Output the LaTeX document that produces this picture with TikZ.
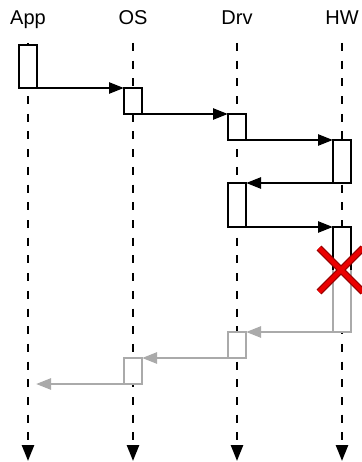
\documentclass[tikz,border=0pt]{standalone}
\usepackage{fontspec}
\setmainfont{Liberation Sans}
\usetikzlibrary{arrows.meta}
\definecolor{lgray}{RGB}{170,170,170}
\definecolor{xred}{RGB}{235,0,0}
\definecolor{xdark}{RGB}{150,0,0}
\begin{document}
\begin{tikzpicture}[x=1pt,y=-1pt,
  lbl/.style={anchor=base,font=\fontsize{20}{20}\selectfont,inner sep=0},
  life/.style={line width=2.5pt,dash pattern=on 8pt off 9.7pt,-{Triangle[length=16pt,width=12pt]}},
  act/.style={draw,line width=2.5pt,fill=white,minimum width=18pt,inner sep=0,outer sep=0,anchor=north},
  gact/.style={act,draw=lgray},
  msg/.style={line width=2.5pt,-{Triangle[length=15pt,width=11pt]}},
  gmsg/.style={msg,draw=lgray},
  xout/.style={line width=7pt,draw=xdark},
  xin/.style={line width=4.5pt,draw=xred}]
\useasboundingbox (0,0) rectangle (361,462);
% labels
\node[lbl] (lApp) at (28,25) {App};
\node[lbl] (lOS) at (133,25) {OS};
\node[lbl] (lDrv) at (237,25) {Drv};
\node[lbl] (lHW) at (342,25) {HW};
% lifelines
\coordinate (tApp) at (28,43);  \coordinate (bApp) at (28,461);
\coordinate (tOS) at (133,43);  \coordinate (bOS) at (133,461);
\coordinate (tDrv) at (237,43); \coordinate (bDrv) at (237,461);
\coordinate (tHW) at (342,43);  \coordinate (bHW) at (342,461);
\draw[life] (tApp) -- (bApp);
\draw[life] (tOS) -- (bOS);
\draw[life] (tDrv) -- (bDrv);
\draw[life] (tHW) -- (bHW);
% activation boxes
\node[act,minimum height=43pt] (a1) at (28,45) {};
\node[act,minimum height=26pt] (o1) at (133,88) {};
\node[act,minimum height=26pt] (d1) at (237,114) {};
\node[act,minimum height=43pt] (h1) at (342,140) {};
\node[act,minimum height=44pt] (d2) at (237,183) {};
\node[gact,minimum height=105pt] (h2) at (342,227) {};
\node[gact,minimum height=26pt] (d3) at (237,332) {};
\node[gact,minimum height=26pt] (o2) at (133,358) {};
\coordinate (endApp) at (36,384);
% black upper part of the last HW box
\draw[line width=2.5pt] (h2.north west) ++(0,43) -- ++(0,-43) -- ++(18,0) -- ++(0,43);
% messages
\draw[msg] (a1.south east) -- (o1.north west);
\draw[msg] (o1.south east) -- (d1.north west);
\draw[msg] (d1.south east) -- (h1.north west);
\draw[msg] (h1.south west) -- (d2.north east);
\draw[msg] (d2.south east) -- (h2.north west);
\draw[gmsg] (h2.south west) -- (d3.north east);
\draw[gmsg] (d3.south west) -- (o2.north east);
\draw[gmsg] (o2.south west) -- (endApp);
% failure cross
\draw[xout] (319,248) -- (363,292) (319,292) -- (363,248);
\draw[xin] (319,248) -- (363,292) (319,292) -- (363,248);
\end{tikzpicture}
\end{document}
